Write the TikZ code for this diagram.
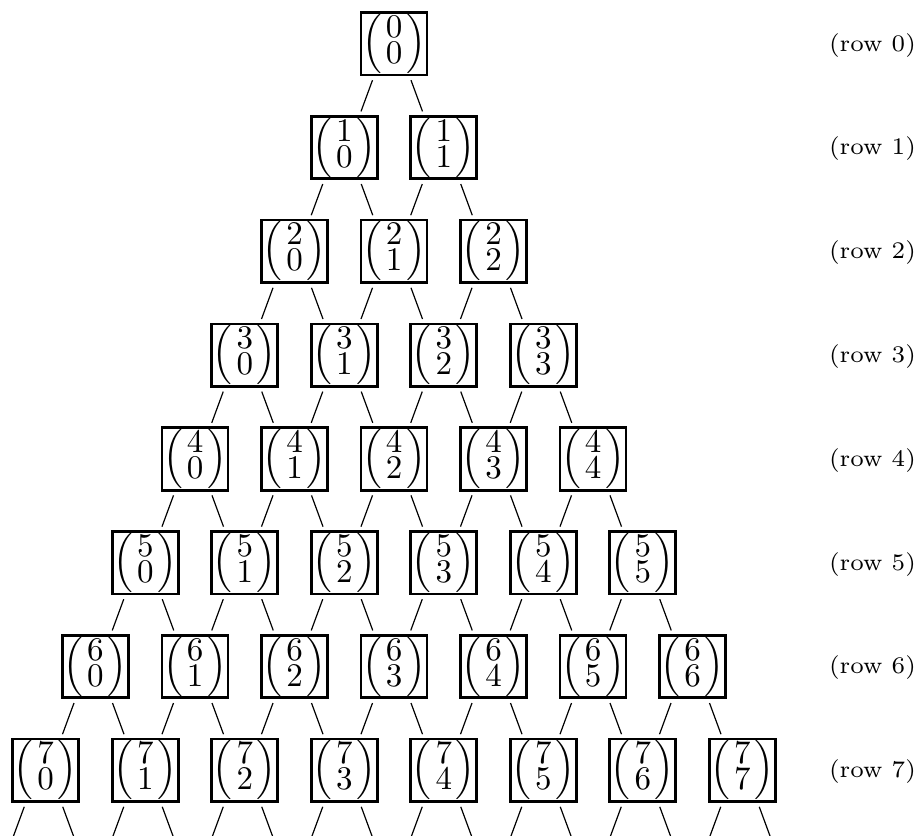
\documentclass[tikz,border=0pt]{standalone}
\usepackage{amsmath}
\usepackage{graphicx}
\newcommand{\pascalbin}[2]{\scalebox{3.3}{$\left(\genfrac{}{}{0pt}{1}{\textstyle #1}{\textstyle #2}\right)$}}
\newcommand{\rowtext}[1]{\scalebox{3.4}{\scriptsize (row #1)}}
\tikzset{
  binbox/.style={draw, line width=2.7pt, inner sep=0pt, minimum width=66pt, minimum height=62.5pt},
  slashline/.style={line width=1.2pt},
  rowlabel/.style={inner sep=0pt}
}
\begin{document}
\begin{tikzpicture}
\useasboundingbox (0,0) rectangle (917pt,-835pt);
\foreach \i in {0,...,7} {
  \pgfmathsetmacro\yy{-43.7-103.8*\i}
  \foreach \k in {0,...,\i} {
    \pgfmathsetmacro\xx{394+99.5*(\k-\i/2)}
    \node[binbox] (n\i-\k) at (\xx pt,\yy pt) {\pascalbin{\i}{\k}};
    \draw[slashline] ([xshift=-21.5pt,yshift=-36.5pt]n\i-\k.center) -- ++(-11.5pt,-31.2pt);
    \draw[slashline] ([xshift=17pt,yshift=-36.5pt]n\i-\k.center) -- ++(11.5pt,-31.2pt);
  }
  \node[rowlabel] (r\i) at (872.5pt,\yy pt-1.5pt) {\rowtext{\i}};
}
\end{tikzpicture}
\end{document}
